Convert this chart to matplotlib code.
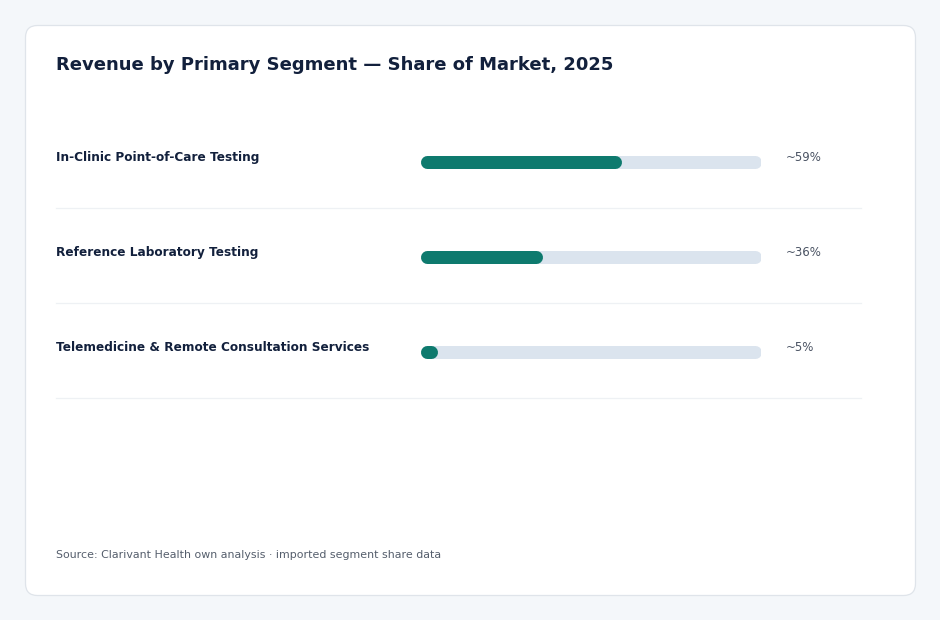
import matplotlib
matplotlib.use("Agg")
import matplotlib.pyplot as plt
from matplotlib.patches import FancyBboxPatch
from matplotlib.transforms import blended_transform_factory

# data
segments = [
    "In-Clinic Point-of-Care Testing",
    "Reference Laboratory Testing",
    "Telemedicine & Remote Consultation Services",
]
shares = [59, 36, 5]
share_labels = ["~59%", "~36%", "~5%"]

title = "Revenue by Primary Segment \u2014 Share of Market, 2025"
source = "Source: Clarivant Health own analysis \u00b7 imported segment share data"

W, H = 940, 620
fig = plt.figure(figsize=(W / 100, H / 100), dpi=100)
fig.patch.set_facecolor("#f4f7fa")

# background card, pixel coordinates
bg = fig.add_axes([0, 0, 1, 1])
bg.set_xlim(0, W)
bg.set_ylim(H, 0)
bg.axis("off")
card = FancyBboxPatch((25.5, 25.5), 890, 570, boxstyle="round,pad=0,rounding_size=12",
                      facecolor="white", edgecolor="#dfe4ea", linewidth=0.9)
bg.add_patch(card)

# bar axes
x0, x1 = 420, 761
top, bottom = 114, 399
ax = fig.add_axes([x0 / W, 1 - bottom / H, (x1 - x0) / W, (bottom - top) / H])
ax.set_xlim(0, 100)
ax.set_ylim(len(segments) - 0.5, -0.5)
ax.axis("off")

bar_px = 13
lw = bar_px * 72 / 100
px_per_unit = (x1 - x0) / 100
inset = (bar_px / 2) / px_per_unit

for i, (name, val, lab) in enumerate(zip(segments, shares, share_labels)):
    ax.plot([inset, 100 - inset], [i, i], color="#dbe4ee", lw=lw,
            solid_capstyle="round", zorder=1)
    ax.plot([inset, max(val - inset, inset + 0.01)], [i, i], color="#0e7a6e", lw=lw,
            solid_capstyle="round", zorder=2)

fx = blended_transform_factory(fig.transFigure, ax.transData)
for i, (name, lab) in enumerate(zip(segments, share_labels)):
    ax.text(56 / W, i - 0.04, name, transform=fx, ha="left", va="center",
            fontsize=8.7, fontweight="bold", color="#12203c")
    ax.text(786 / W, i - 0.04, lab, transform=fx, ha="left", va="center",
            fontsize=8.5, color="#4a5363")
    ax.plot([56 / W, 861 / W], [i + 0.49, i + 0.49], transform=fx, color="#eef1f4",
            lw=0.9, clip_on=False, zorder=0)

fig.text(56 / W, 1 - 65 / H, title, ha="left", va="center", fontsize=13,
         fontweight="bold", color="#12203c")
fig.text(56 / W, 1 - 555 / H, source, ha="left", va="center", fontsize=7.9,
         color="#555e6c")

fig.savefig("out.png", dpi=100, facecolor=fig.get_facecolor())
